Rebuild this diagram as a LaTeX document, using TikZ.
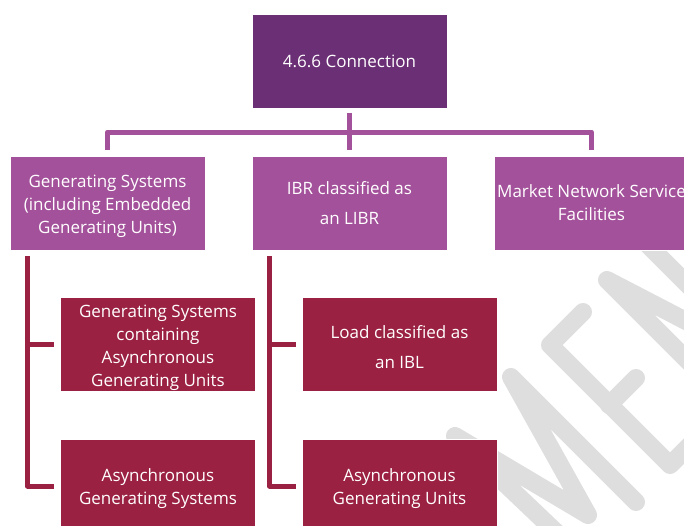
\documentclass[tikz,border=0pt]{standalone}
\usepackage{fontspec}
\setmainfont{Open Sans}
\usepackage{tikz}

\definecolor{headpurple}{HTML}{6B2F75}
\definecolor{catpurple}{HTML}{A3519A}
\definecolor{subred}{HTML}{9B2142}
\definecolor{markgrey}{HTML}{DEDEDE}

\def \lift {\rule{0pt}{14pt}}

\tikzset{
	box/.style={minimum width=146.25pt, minimum height=70.5pt, inner sep=0pt, align=center,
		text=white, draw=white, line width=0.4pt, font=\fontsize{12.75}{17.2}\selectfont},
	headbox/.style={box, fill=headpurple},
	catbox/.style={box, fill=catpurple},
	subbox/.style={box, fill=subred},
	toplink/.style={draw=catpurple, line width=3.75pt, line join=round},
	sublink/.style={draw=subred, line width=3.75pt, line join=round},
	markline/.style={draw=markgrey, line width=13.5pt, line cap=round, line join=round}
}

\begin{document}
\begin{tikzpicture}[x=0.75pt, y=-0.75pt]

\useasboundingbox (0,0) rectangle (684,525);
\clip (0,0) rectangle (684,525);

% watermark behind the boxes
\draw[markline] (580,555)--(455,436)--(588,515)--(511,377)--(636,502);
\draw[markline] (583,312)--(550,345)--(670,465)--(703,432);
\draw[markline] (609,405)--(636,378);
\draw[markline] (727,400)--(607,280)--(765,362)--(645,242);

\node[headbox] (conn) at (349.5,61) {4.6.6 Connection};

\node[catbox] (gen) at (107.5,203) {\lift Generating Systems\\(including Embedded\\Generating Units)};
\node[catbox] (ibr) at (349.5,203) {IBR classified as\\[5.6pt]an LIBR};
\node[catbox] (mns) at (591.5,203) {Market Network Service\\Facilities};

\node[subbox] (gsa)  at (158,344.5)   {\lift Generating Systems\\containing\\Asynchronous\\Generating Units};
\node[subbox] (ags)  at (158,486)     {\lift Asynchronous\\Generating Systems};
\node[subbox] (load) at (399.5,344.5) {\lift Load classified as\\[5.6pt]an IBL};
\node[subbox] (agu)  at (399.5,486)   {\lift Asynchronous\\Generating Units};

% top bus
\coordinate (bus) at (conn.south |- 0,132);
\draw[toplink] ([yshift=-3.75pt]conn.south) -- (bus);
\draw[toplink] ([yshift=4.5pt]gen.north) -- (gen.north |- bus) -- (mns.north |- bus) -- ([yshift=4.5pt]mns.north);
\draw[toplink] (bus) -- ([yshift=4.5pt]ibr.north);

% side rails
\foreach \cat/\upper/\lower in {gen/gsa/ags, ibr/load/agu}{
	\coordinate (rail) at ([xshift=13.2pt,yshift=-4.5pt]\cat.south west);
	\draw[sublink] (rail) |- ([xshift=-4.5pt]\lower.west);
	\draw[sublink] (rail |- \upper.west) -- ([xshift=-4.5pt]\upper.west);
}

\end{tikzpicture}
\end{document}
